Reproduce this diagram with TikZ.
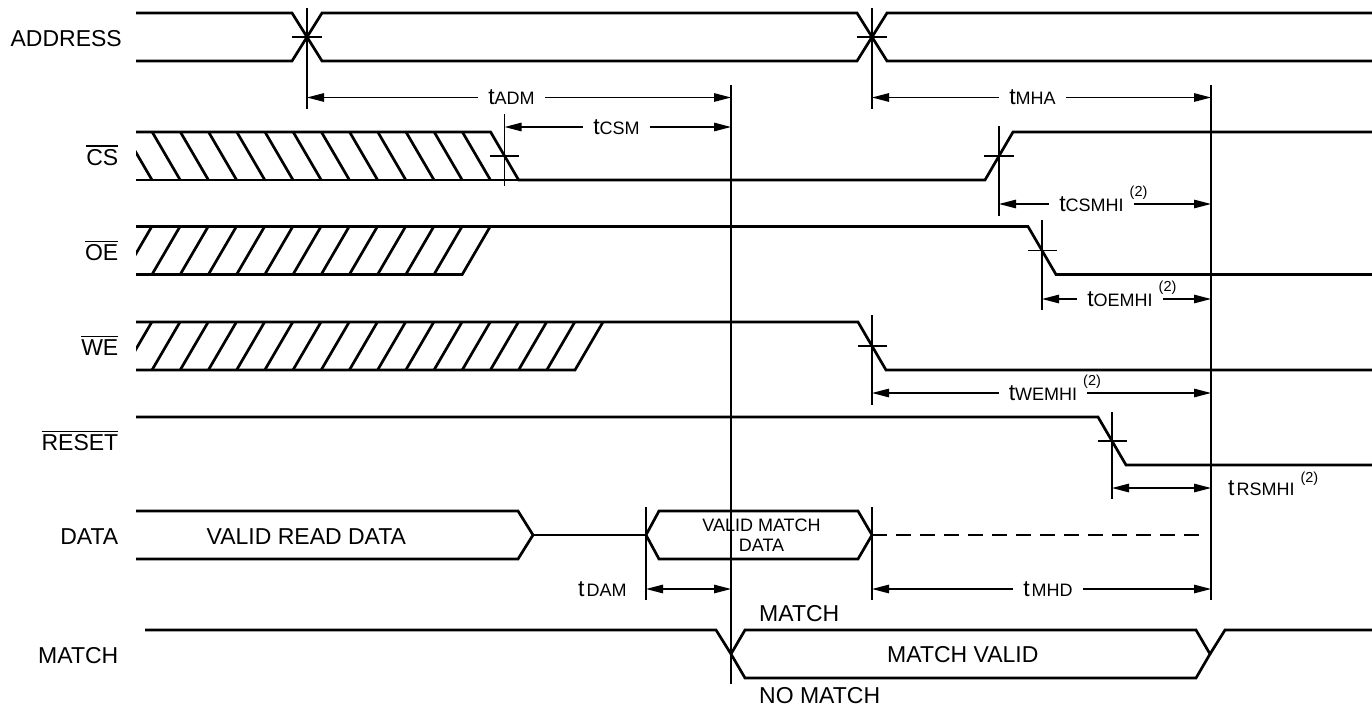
\documentclass[tikz,border=0pt]{standalone}
\usepackage{fontspec}
\setmainfont{Liberation Sans}
\usetikzlibrary{arrows.meta}
\newcommand\ovl[1]{\setbox0\hbox{#1}\rlap{\rule[\dimexpr\ht0+2.6pt\relax]{\wd0}{1.3pt}}\box0}
\newcommand\tsub[2][0pt]{{\fontsize{23}{23}\selectfont t}\kern#1{\fontsize{18}{18}\selectfont #2}}
\newcommand\ttwo[1][15.5pt]{\rlap{\hspace{6pt}\raisebox{#1}{\fontsize{14.5}{14.5}\selectfont (2)}}}
\tikzset{
  sig/.style={line width=2.7pt},
  thinl/.style={line width=1.3pt},
  dim/.style={line width=1.3pt,{Triangle[length=17pt,width=8.5pt]}-{Triangle[length=17pt,width=8.5pt]}},
  lab/.style={font=\fontsize{23}{27}\selectfont,anchor=base east,inner sep=0pt},
  txt/.style={font=\fontsize{23}{27}\selectfont,anchor=base west,inner sep=0pt},
  tlab/.style={fill=white,inner xsep=10pt,inner ysep=1pt,anchor=base},
}
\begin{document}
\begin{tikzpicture}[x=1pt,y=-1pt]
\useasboundingbox (0,0) rectangle (1372,706);
% ---------------- ADDRESS
\draw[sig] (136,13) -- (292,13) -- (322,61) -- (857,61) -- (887,13) -- (1372,13);
\draw[sig] (136,61) -- (292,61) -- (322,13) -- (857,13) -- (887,61) -- (1372,61);
\draw[thinl] (292,37) -- (322,37);
\draw[thinl] (857,37) -- (887,37);
% ---------------- CS
\begin{scope}
  \clip (136,132) -- (490.6,132) -- (518.6,180) -- (136,180) -- cycle;
  \foreach \k in {0,...,12} \draw[sig] ({124+28.2*\k},132) -- ({152+28.2*\k},180);
\end{scope}
\draw[sig] (136,132) -- (490.6,132) -- (518.6,180) -- (985,180) -- (1013,132) -- (1372,132);
\draw[sig] (136,180) -- (518.6,180);
\draw[thinl] (490,156) -- (519,156);
\draw[thinl] (984,156) -- (1014,156);
% ---------------- OE
\begin{scope}
  \clip (136,226.5) -- (490.2,226.5) -- (462.2,274.5) -- (136,274.5) -- cycle;
  \foreach \k in {-1,...,10} \draw[sig] ({152+28.2*\k},274.5) -- ({180+28.2*\k},226.5);
\end{scope}
\draw[sig] (136,274.5) -- (462.2,274.5) -- (490.2,226.5);
\draw[sig] (136,226.5) -- (1028,226.5) -- (1056,274.5) -- (1372,274.5);
\draw[thinl] (1028,250.5) -- (1057,250.5);
% ---------------- WE
\begin{scope}
  \clip (136,322) -- (603,322) -- (575,370) -- (136,370) -- cycle;
  \foreach \k in {-1,...,14} \draw[sig] ({152+28.2*\k},370) -- ({180+28.2*\k},322);
\end{scope}
\draw[sig] (136,370) -- (575,370) -- (603,322);
\draw[sig] (136,322) -- (858,322) -- (886,370) -- (1372,370);
\draw[thinl] (858,346) -- (887,346);
% ---------------- RESET
\draw[sig] (136,417) -- (1098,417) -- (1126,465) -- (1372,465);
\draw[thinl] (1098,441) -- (1127,441);
% ---------------- DATA
\draw[sig] (136,511) -- (518,511) -- (533,535) -- (518,559) -- (136,559);
\draw[sig] (533,535) -- (646,535);
\draw[sig] (646,535) -- (659,511) -- (858,511) -- (872,535) -- (858,559) -- (659,559) -- cycle;
\draw[sig,dash pattern=on 15pt off 9pt] (872,535) -- (1205,535);
% ---------------- MATCH
\draw[sig] (145,630) -- (716,630) -- (731,654) -- (745,678) -- (1196,678) -- (1210,654) -- (1196,630) -- (745,630) -- (731,654);
\draw[sig] (1210,654) -- (1225,630) -- (1372,630);
% ---------------- reference lines
\coordinate (vA1t) at (307,8);   \coordinate (vA1b) at (307,109);
\coordinate (vA2t) at (872,8);   \coordinate (vA2b) at (872,109);
\coordinate (vMt) at (731,85);   \coordinate (vMb) at (731,684);
\coordinate (vHt) at (1211,85);  \coordinate (vHb) at (1211,600);
\coordinate (vCSt) at (504.6,114); \coordinate (vCSb) at (504.6,186);
\coordinate (vCS2t) at (999,126);  \coordinate (vCS2b) at (999,216);
\coordinate (vOEt) at (1042,220);  \coordinate (vOEb) at (1042,310);
\coordinate (vWEt) at (872,315);   \coordinate (vWEb) at (872,405);
\coordinate (vRSt) at (1112,412);  \coordinate (vRSb) at (1112,499);
\coordinate (vD1t) at (646,507);   \coordinate (vD1b) at (646,600);
\coordinate (vD2t) at (872,507);   \coordinate (vD2b) at (872,600);
\foreach \a in {vA1,vA2,vM,vH,vCS,vCS2,vOE,vWE,vRS,vD1,vD2}
  \draw[thinl] (\a t) -- (\a b);
% ---------------- dimension arrows
\draw[dim] (307,97.5) -- (731,97.5);
\draw[dim] (504.6,127) -- (731,127);
\draw[dim] (872,97.5) -- (1211,97.5);
\draw[dim] (999,204) -- (1211,204);
\draw[dim] (1042,299) -- (1211,299);
\draw[dim] (872,393) -- (1211,393);
\draw[dim] (1112,488) -- (1211,488);
\draw[dim] (646,589) -- (731,589);
\draw[dim] (872,589) -- (1211,589);
% ---------------- timing labels
\node[tlab] (tadm) at (511.5,105) {\tsub{ADM}};
\node[tlab] (tcsm) at (616.5,134.5) {\tsub{CSM}};
\node[tlab] (tmha) at (1032.5,105) {\tsub{MHA}};
\node[tlab] (tcsmhi) at (1091.5,211.5) {\tsub{CSMHI}\ttwo};
\node[tlab] (toemhi) at (1120,306.5) {\tsub{OEMHI}\ttwo};
\node[tlab] (twemhi) at (1043,400.5) {\tsub{WEMHI}\ttwo};
\node[tlab] (tmhd) at (1048,596.5) {\tsub[2pt]{MHD}};
\node[anchor=base west,inner sep=0pt] (tdam) at (578,596.5) {\tsub[2pt]{DAM}};
\node[anchor=base west,inner sep=0pt] (trsmhi) at (1228,495) {\tsub[2pt]{RSMHI}\ttwo[13pt]};
% ---------------- signal names
\node[lab] (nADDR) at (122,46.5) {ADDRESS};
\node[lab] (nCS) at (118.5,165.3) {\ovl{CS}};
\node[lab] (nOE) at (118.5,260.5) {\ovl{OE}};
\node[lab] (nWE) at (118.5,355.5) {\ovl{WE}};
\node[lab] (nRESET) at (118.5,450.5) {\ovl{RESET}};
\node[lab] (nDATA) at (118.5,544) {DATA};
\node[lab] (nMATCH) at (118.5,663) {MATCH};
% ---------------- texts in signals
\node[txt] (vrd) at (206.5,544) {VALID READ DATA};
\node[font=\fontsize{18}{20}\selectfont,align=center,inner sep=0pt] (vmd) at (761.5,535.2) {VALID MATCH\\DATA};
\node[txt] (mtop) at (759,621.7) {MATCH};
\node[txt] (mno) at (759,703) {NO MATCH};
\node[txt] (mval) at (887,662) {MATCH VALID};
\end{tikzpicture}
\end{document}
